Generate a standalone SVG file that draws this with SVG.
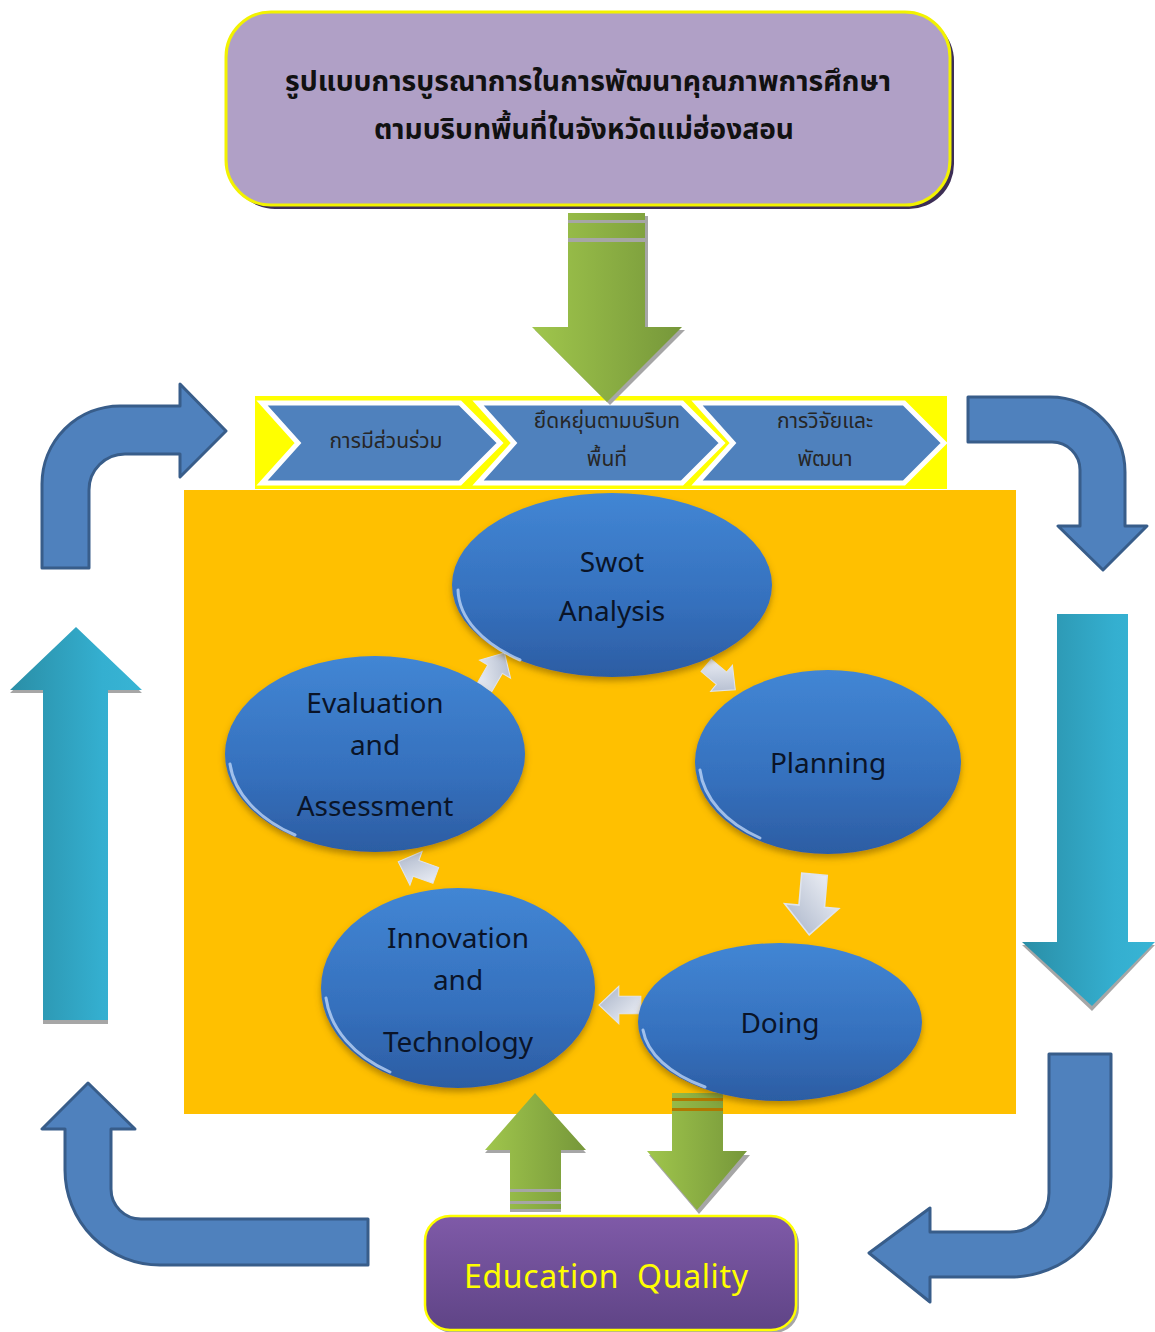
<svg xmlns="http://www.w3.org/2000/svg" width="1155" height="1332" viewBox="0 0 1155 1332">
<style>
.bend{fill:#4f81bd;stroke:#385d8a;stroke-width:3;stroke-linejoin:round}
.chev{fill:#4f81bd;stroke:#ffffff;stroke-width:5;stroke-linejoin:miter}
.chevt{font-family:'Noto Sans Thai','Noto Sans','DejaVu Sans',sans-serif;font-size:21px;fill:#262626;text-anchor:middle}
.title{font-family:'Noto Sans Thai','Noto Sans','DejaVu Sans',sans-serif;font-size:28px;font-weight:bold;fill:#111;text-anchor:middle}
.ell{fill:url(#gBlue);filter:url(#sh)}
.hl{fill:none;stroke:#cfe3ff;stroke-width:3;stroke-linecap:round;opacity:.7}
.et{font-family:'Noto Sans','Open Sans',sans-serif;font-size:28px;fill:#0a1428;text-anchor:middle}
.small{fill:url(#gGray);stroke:#dfe4ee;stroke-width:1}
</style>
<defs>
<linearGradient id="gGreen" x1="0" y1="0" x2="1" y2="0"><stop offset="0" stop-color="#a0c64c"/><stop offset="1" stop-color="#76973a"/></linearGradient>
<linearGradient id="gTeal" x1="0" y1="0" x2="1" y2="0"><stop offset="0" stop-color="#2a8ea6"/><stop offset="0.7" stop-color="#34afd0"/><stop offset="1" stop-color="#38b4d4"/></linearGradient>
<linearGradient id="gBlue" x1="0" y1="0" x2="0" y2="1"><stop offset="0" stop-color="#4286d4"/><stop offset="0.6" stop-color="#3570bd"/><stop offset="1" stop-color="#2c5da3"/></linearGradient>
<linearGradient id="gGray" x1="0" y1="0" x2="1" y2="1"><stop offset="0" stop-color="#f4f6fb"/><stop offset="1" stop-color="#a6b1c6"/></linearGradient>
<linearGradient id="gPurple" x1="0" y1="0" x2="0" y2="1"><stop offset="0" stop-color="#7f5aa8"/><stop offset="1" stop-color="#5f4486"/></linearGradient>
<filter id="sh" x="-10%" y="-10%" width="120%" height="130%"><feDropShadow dx="0" dy="4" stdDeviation="3" flood-color="#6b4a00" flood-opacity="0.5"/></filter>
<path id="sa" d="M -18 -8 L 2 -8 L 2 -17 L 20 0 L 2 17 L 2 8 L -18 8 Z"/>
</defs>

<rect width="1155" height="1332" fill="#ffffff"/>

<g id="title">
<rect x="230" y="16" width="724" height="193" rx="45" fill="#3d2e55"/>
<rect x="226" y="12" width="724" height="193" rx="45" fill="#b0a0c6" stroke="#f2f200" stroke-width="3"/>
<text class="title" x="588" y="91" textLength="606" lengthAdjust="spacingAndGlyphs">รูปแบบการบูรณาการในการพัฒนาคุณภาพการศึกษา</text>
<text class="title" x="584" y="139" textLength="420" lengthAdjust="spacingAndGlyphs">ตามบริบทพื้นที่ในจังหวัดแม่ฮ่องสอน</text>
</g>

<g id="chevrons">
<rect x="255" y="396" width="692" height="93" fill="#ffff00"/>
<g id="chev1"><polygon class="chev" points="262,403 460,403 500,443 460,483 262,483 298,443"/>
<text class="chevt" x="386" y="448">การมีส่วนร่วม</text></g>
<g id="chev2"><polygon class="chev" points="478,403 682,403 722,443 682,483 478,483 514,443"/>
<text class="chevt" x="607" y="428">ยึดหยุ่นตามบริบท</text><text class="chevt" x="607" y="466">พื้นที่</text></g>
<g id="chev3"><polygon class="chev" points="697,403 904,403 944,443 904,483 697,483 733,443"/>
<text class="chevt" x="825" y="428">การวิจัยและ</text><text class="chevt" x="825" y="466">พัฒนา</text></g>
</g>

<rect id="panel" x="184" y="490" width="832" height="624" fill="#ffc000"/>

<g id="connectors">
<g id="topGreen">
<path d="M 571 216 L 648 216 L 648 330 L 685 330 L 610 405 L 535 330 L 571 330 Z" fill="#a6a6a6"/>
<path d="M 568 213 L 645 213 L 645 327 L 682 327 L 607 402 L 532 327 L 568 327 Z" fill="url(#gGreen)"/>
<rect x="568" y="220" width="77" height="3" fill="#a6a6a6"/>
<rect x="568" y="238" width="77" height="4" fill="#a6a6a6"/>
</g>
<path id="bendTL" class="bend" d="M 42 568 L 42 484 A 78 78 0 0 1 120 406 L 180 406 L 180 384 L 226 431 L 180 477 L 180 454 L 125 454 A 36 36 0 0 0 89 490 L 89 568 Z"/>
<path id="bendTR" class="bend" d="M 968 397 L 1050 397 A 75 75 0 0 1 1125 472 L 1125 526 L 1147 526 L 1103 570 L 1058 526 L 1080 526 L 1080 470 A 28 28 0 0 0 1052 442 L 968 442 Z"/>
<path id="bendBR" class="bend" d="M 1049 1054 L 1111 1054 L 1111 1177 A 100 100 0 0 1 1011 1277 L 930 1277 L 930 1302 L 869 1253 L 930 1208 L 930 1232 L 1010 1232 A 39 39 0 0 0 1049 1193 Z"/>
<path id="bendBL" class="bend" d="M 368 1219 L 141 1219 A 30 30 0 0 1 111 1189 L 111 1129 L 135 1129 L 88 1083 L 42 1129 L 65 1129 L 65 1170 A 95 95 0 0 0 160 1265 L 368 1265 Z"/>
<g id="tealUp">
<path d="M 43 1024 L 43 693 L 10 693 L 76 630 L 142 693 L 108 693 L 108 1024 Z" fill="#a6a6a6"/>
<path d="M 43 1020 L 43 690 L 10 690 L 76 627 L 142 690 L 108 690 L 108 1020 Z" fill="url(#gTeal)"/>
</g>
<g id="tealDown">
<path d="M 1057 617 L 1128 617 L 1128 945 L 1155 945 L 1092 1011 L 1022 945 L 1057 945 Z" fill="#a6a6a6"/>
<path d="M 1057 614 L 1128 614 L 1128 942 L 1155 942 L 1092 1006 L 1022 942 L 1057 942 Z" fill="url(#gTeal)"/>
</g>
<g id="greenUp">
<path d="M 510 1212 L 510 1153 L 485 1153 L 535 1096 L 586 1153 L 561 1153 L 561 1212 Z" fill="#a6a6a6"/>
<path d="M 510 1209 L 510 1150 L 485 1150 L 535 1093 L 586 1150 L 561 1150 L 561 1209 Z" fill="url(#gGreen)"/>
<rect x="510" y="1189" width="51" height="3" fill="#a6a6a6"/>
<rect x="510" y="1201" width="51" height="3" fill="#a6a6a6"/>
</g>
<g id="greenDown">
<path d="M 672 1096 L 723 1096 L 723 1155 L 750 1155 L 699 1214 L 649 1155 L 672 1155 Z" fill="#a6a6a6"/>
<path d="M 672 1093 L 723 1093 L 723 1151 L 747 1151 L 697 1210 L 647 1151 L 672 1151 Z" fill="url(#gGreen)"/>
<rect x="672" y="1098" width="51" height="3" fill="#b07800"/>
<rect x="672" y="1108" width="51" height="3" fill="#b07800"/>
</g>
<use href="#sa" class="small" transform="translate(720 677) rotate(40)"/>
<use href="#sa" class="small" transform="translate(812 903) rotate(95) scale(1.6)"/>
<use href="#sa" class="small" transform="translate(621 1005) rotate(180) scale(1.1)"/>
<use href="#sa" class="small" transform="translate(418 869) rotate(200) scale(1.05)"/>
<use href="#sa" class="small" transform="translate(494 671) rotate(-60) scale(1.05)"/>
</g>

<g id="swot"><ellipse class="ell" cx="612" cy="585" rx="160" ry="92"/>
<path class="hl" d="M 458 590 A 158 90 0 0 0 520 660"/>
<text class="et" x="612" y="572">Swot</text><text class="et" x="612" y="621">Analysis</text></g>
<g id="planning"><ellipse class="ell" cx="828" cy="762" rx="133" ry="92"/>
<path class="hl" d="M 700 770 A 131 90 0 0 0 760 838"/>
<text class="et" x="828" y="773">Planning</text></g>
<g id="doing"><ellipse class="ell" cx="780" cy="1022" rx="142" ry="79"/>
<path class="hl" d="M 643 1030 A 140 77 0 0 0 705 1087"/>
<text class="et" x="780" y="1033">Doing</text></g>
<g id="innovation"><ellipse class="ell" cx="458" cy="988" rx="137" ry="100"/>
<path class="hl" d="M 326 998 A 135 98 0 0 0 390 1072"/>
<text class="et" x="458" y="948">Innovation</text><text class="et" x="458" y="990">and</text><text class="et" x="458" y="1052">Technology</text></g>
<g id="evaluation"><ellipse class="ell" cx="375" cy="754" rx="150" ry="98"/>
<path class="hl" d="M 230 764 A 148 96 0 0 0 295 835"/>
<text class="et" x="375" y="713">Evaluation</text><text class="et" x="375" y="755">and</text><text class="et" x="375" y="816">Assessment</text></g>

<g id="quality">
<rect x="428" y="1219" width="371" height="114" rx="25" fill="#a6a6a6"/>
<rect x="425" y="1216" width="371" height="114" rx="25" fill="url(#gPurple)" stroke="#ffff00" stroke-width="2.5"/>
<text x="606" y="1288" font-family="'Noto Sans','Open Sans',sans-serif" font-size="32" fill="#ffff00" text-anchor="middle" xml:space="preserve" textLength="284" lengthAdjust="spacing">Education  Quality</text>
</g>
</svg>
